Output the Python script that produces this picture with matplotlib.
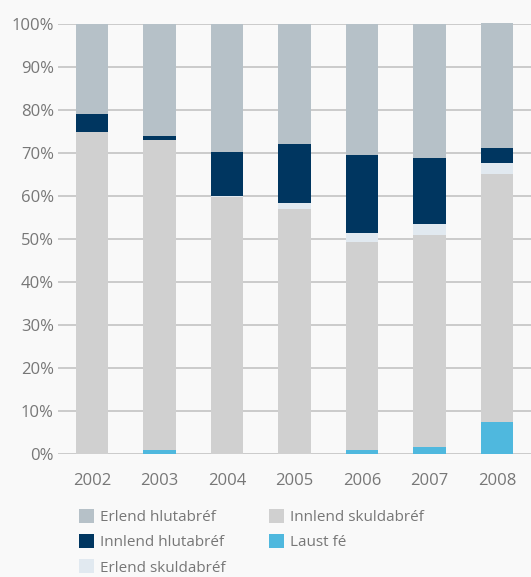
import numpy as np
import matplotlib.pyplot as plt

years = ['2002', '2003', '2004', '2005', '2006', '2007', '2008']
laust_fe = [0.0, 0.9, 0.0, 0.0, 1.0, 1.6, 7.4]
innlend_skuld = [75.0, 72.1, 59.7, 56.9, 48.2, 49.3, 57.8]
erlend_skuld = [0.0, 0.0, 0.3, 1.4, 2.3, 2.5, 2.5]
innlend_hluta = [4.0, 1.0, 10.2, 13.7, 18.0, 15.4, 3.5]
erlend_hluta = [21.0, 26.0, 29.8, 28.0, 30.5, 31.2, 29.0]

series = [
    ('Laust fé', laust_fe, '#4fb8de'),
    ('Innlend skuldabréf', innlend_skuld, '#d0d0d0'),
    ('Erlend skuldabréf', erlend_skuld, '#e1e9f0'),
    ('Innlend hlutabréf', innlend_hluta, '#003660'),
    ('Erlend hlutabréf', erlend_hluta, '#b6c1c8'),
]

plt.rcParams['font.family'] = ['Open Sans', 'DejaVu Sans']
txt = '#777777'
bg = '#f9f9f9'

fig = plt.figure(figsize=(5.31, 5.77), dpi=100, facecolor=bg)
ax = fig.add_axes([58 / 531, 123 / 577, 473 / 531, 430 / 577], facecolor=bg)

x = np.arange(len(years))
bottom = np.zeros(len(years))
bars = {}
for name, vals, col in series:
    vals = np.array(vals)
    bars[name] = ax.bar(x, vals, 0.48, bottom=bottom, color=col,
                        linewidth=0, label=name, zorder=3, clip_on=False)
    bottom += vals

ax.set_xlim(-0.5, 6.5)
ax.set_ylim(0, 100)
ax.set_yticks(np.arange(0, 101, 10))
ax.set_yticklabels([f'{v}%' for v in range(0, 101, 10)])
ax.set_xticks(x)
ax.set_xticklabels(years)
ax.yaxis.grid(True, color='#c3c3c3', linewidth=1.2, zorder=0)
ax.set_axisbelow(True)
for s in ax.spines.values():
    s.set_visible(False)
ax.tick_params(axis='both', length=0, labelsize=12, colors=txt)
ax.tick_params(axis='y', pad=3)
ax.tick_params(axis='x', pad=14)

order = ['Erlend hlutabréf', 'Innlend hlutabréf', 'Erlend skuldabréf',
         'Innlend skuldabréf', 'Laust fé']
leg = fig.legend([bars[n] for n in order], order, ncol=2, loc='upper left',
                 bbox_to_anchor=(79 / 531, 1 - 509 / 577), frameon=False,
                 fontsize=11, handlelength=1.0, handleheight=1.0,
                 handletextpad=0.4, labelspacing=0.6, columnspacing=2.8,
                 borderpad=0, borderaxespad=0)
for t in leg.get_texts():
    t.set_color(txt)

fig.savefig('out.png', dpi=100, facecolor=bg)
